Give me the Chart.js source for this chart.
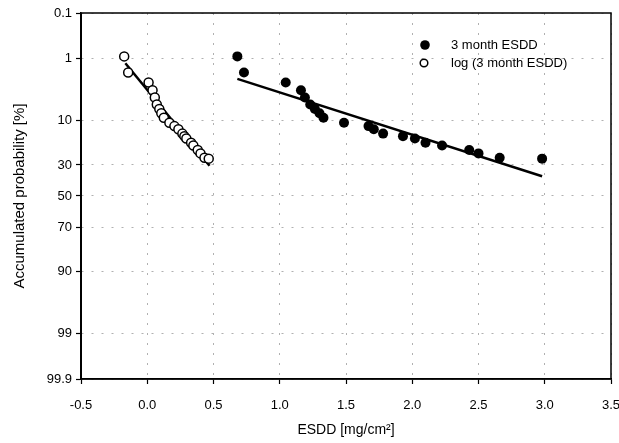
<!DOCTYPE html>
<html lang="en">
<head>
    <meta charset="UTF-8">
    <title>ESDD probability plot</title>
    <script src="https://cdn.jsdelivr.net/npm/chart.js"></script>
    <style>
        body { margin: 0; background: #fff; }
    </style>
</head>
<body>
    <canvas id="chart" width="619" height="443"></canvas>

    <script>
        // accumulated probability [%] of each sorted sample (same for both series)
        const probability = [0.92, 1.85, 2.76, 3.7, 4.8, 6.1, 7.1, 8.1, 9.3, 10.8, 11.9,
                             13.0, 14.6, 15.6, 16.6, 18.4, 19.7, 21.9, 23.6, 25.9, 26.4];
        // 3 month ESDD [mg/cm2]
        const esdd = [0.68, 0.73, 1.045, 1.16, 1.19, 1.23, 1.265, 1.30, 1.33, 1.485, 1.67,
                      1.71, 1.78, 1.93, 2.02, 2.10, 2.225, 2.43, 2.50, 2.66, 2.98];
        // log (3 month ESDD)
        const logEsdd = [-0.174, -0.144, 0.01, 0.04, 0.057, 0.072, 0.091, 0.106, 0.125, 0.167, 0.205,
                         0.235, 0.265, 0.28, 0.295, 0.331, 0.348, 0.381, 0.402, 0.432, 0.464];

        // fitted lines (end points)
        const fitEsddX = [0.68, 2.98];
        const fitEsddP = [2.4, 36.9];
        const fitLogX = [-0.165, 0.47];
        const fitLogP = [1.25, 30.5];

        const xTicks = [-0.5, 0.0, 0.5, 1.0, 1.5, 2.0, 2.5, 3.0, 3.5];
        const yTicks = [0.1, 1, 10, 30, 50, 70, 90, 99, 99.9];
        const yTickLabels = ['0.1', '1', '10', '30', '50', '70', '90', '99', '99.9'];

        // inverse of the normal CDF (Acklam), p in 0..1
        function probit(p) {
            const a = [-3.969683028665376e+01, 2.209460984245205e+02, -2.759285104469687e+02, 1.383577518672690e+02, -3.066479806614716e+01, 2.506628277459239e+00];
            const b = [-5.447609879822406e+01, 1.615858368580409e+02, -1.556989798598866e+02, 6.680131188771972e+01, -1.328068155288572e+01];
            const c = [-7.784894002430293e-03, -3.223964580411365e-01, -2.400758277161838e+00, -2.549732539343734e+00, 4.374664141464968e+00, 2.938163982698783e+00];
            const d = [7.784695709041462e-03, 3.224671290700398e-01, 2.445134137142996e+00, 3.754408661907416e+00];
            const pl = 0.02425;
            let q, r;
            if (p < pl) {
                q = Math.sqrt(-2 * Math.log(p));
                return (((((c[0]*q+c[1])*q+c[2])*q+c[3])*q+c[4])*q+c[5]) / ((((d[0]*q+d[1])*q+d[2])*q+d[3])*q+1);
            }
            if (p <= 1 - pl) {
                q = p - 0.5; r = q * q;
                return (((((a[0]*r+a[1])*r+a[2])*r+a[3])*r+a[4])*r+a[5])*q / (((((b[0]*r+b[1])*r+b[2])*r+b[3])*r+b[4])*r+1);
            }
            q = Math.sqrt(-2 * Math.log(1 - p));
            return -(((((c[0]*q+c[1])*q+c[2])*q+c[3])*q+c[4])*q+c[5]) / ((((d[0]*q+d[1])*q+d[2])*q+d[3])*q+1);
        }
        const z = pct => probit(pct / 100);
        const toPoints = (xs, ps) => xs.map((x, i) => ({ x: x, y: z(ps[i]) }));

        const font = 'Arial, "Liberation Sans", sans-serif';

        // box around the plot + legend
        const framePlugin = {
            id: 'frame',
            afterDraw(chart) {
                const { ctx, chartArea: a } = chart;
                ctx.save();
                ctx.strokeStyle = '#000';
                ctx.lineWidth = 1.5;
                ctx.strokeRect(a.left, a.top, a.right - a.left, a.bottom - a.top);
                ctx.lineWidth = 2;
                ctx.beginPath();
                ctx.moveTo(a.left, a.top);
                ctx.lineTo(a.left, a.bottom);
                ctx.stroke();

                ctx.font = '13px ' + font;
                ctx.textBaseline = 'middle';
                ctx.fillStyle = '#000';
                ctx.beginPath();
                ctx.arc(425, 45, 4.8, 0, Math.PI * 2);
                ctx.fill();
                ctx.fillText('3 month ESDD', 451, 45);

                ctx.beginPath();
                ctx.arc(424, 63, 3.8, 0, Math.PI * 2);
                ctx.fillStyle = '#fff';
                ctx.fill();
                ctx.lineWidth = 1.5;
                ctx.stroke();
                ctx.fillStyle = '#000';
                ctx.fillText('log (3 month ESDD)', 451, 63);
                ctx.restore();
            }
        };

        const gridOpts = {
            color: '#b0b0b0',
            lineWidth: 1,
            tickColor: '#000',
            tickLength: 5,
            tickWidth: 1.2
        };

        new Chart(document.getElementById('chart'), {
            type: 'scatter',
            data: {
                datasets: [
                    {
                        label: '3 month ESDD',
                        data: toPoints(esdd, probability),
                        backgroundColor: '#000',
                        borderColor: '#000',
                        borderWidth: 0,
                        pointRadius: 5,
                        order: 1
                    },
                    {
                        label: 'log (3 month ESDD)',
                        data: toPoints(logEsdd, probability),
                        backgroundColor: '#fff',
                        borderColor: '#000',
                        borderWidth: 1.5,
                        pointRadius: 4.5,
                        order: 1
                    },
                    {
                        label: 'fit ESDD',
                        data: toPoints(fitEsddX, fitEsddP),
                        showLine: true,
                        borderColor: '#000',
                        borderWidth: 2.5,
                        pointRadius: 0,
                        order: 2
                    },
                    {
                        label: 'fit log',
                        data: toPoints(fitLogX, fitLogP),
                        showLine: true,
                        borderColor: '#000',
                        borderWidth: 2.5,
                        pointRadius: 0,
                        order: 2
                    }
                ]
            },
            options: {
                responsive: false,
                animation: false,
                layout: { padding: { top: 13, right: 8, left: 0, bottom: 0 } },
                plugins: {
                    legend: { display: false },
                    tooltip: { enabled: false }
                },
                scales: {
                    x: {
                        type: 'linear',
                        min: -0.5,
                        max: 3.5,
                        afterBuildTicks: s => { s.ticks = xTicks.map(v => ({ value: v })); },
                        afterFit: s => { s.height = 64; s.paddingLeft = 0; s.paddingRight = 0; },
                        grid: gridOpts,
                        border: { display: true, color: '#000', width: 1.5, dash: [2, 8] },
                        ticks: {
                            color: '#000',
                            font: { size: 13, family: font },
                            padding: 14,
                            maxRotation: 0,
                            callback: v => v.toFixed(1)
                        },
                        title: {
                            display: true,
                            text: 'ESDD [mg/cm²]',
                            color: '#000',
                            font: { size: 14, family: font },
                            padding: { top: 6 }
                        }
                    },
                    y: {
                        type: 'linear',
                        reverse: true,
                        min: z(0.1),
                        max: z(99.9),
                        afterBuildTicks: s => { s.ticks = yTicks.map(v => ({ value: z(v) })); },
                        afterFit: s => { s.width = 81; s.paddingTop = 0; s.paddingBottom = 0; },
                        grid: gridOpts,
                        border: { display: true, color: '#000', width: 1.5, dash: [2, 8] },
                        ticks: {
                            color: '#000',
                            font: { size: 13, family: font },
                            padding: 4,
                            callback: (v, i) => yTickLabels[i]
                        },
                        title: {
                            display: true,
                            text: 'Accumulated probability [%]',
                            color: '#000',
                            font: { size: 15, family: font },
                            padding: { top: 11, bottom: 4 }
                        }
                    }
                }
            },
            plugins: [framePlugin]
        });
    </script>
</body>
</html>
